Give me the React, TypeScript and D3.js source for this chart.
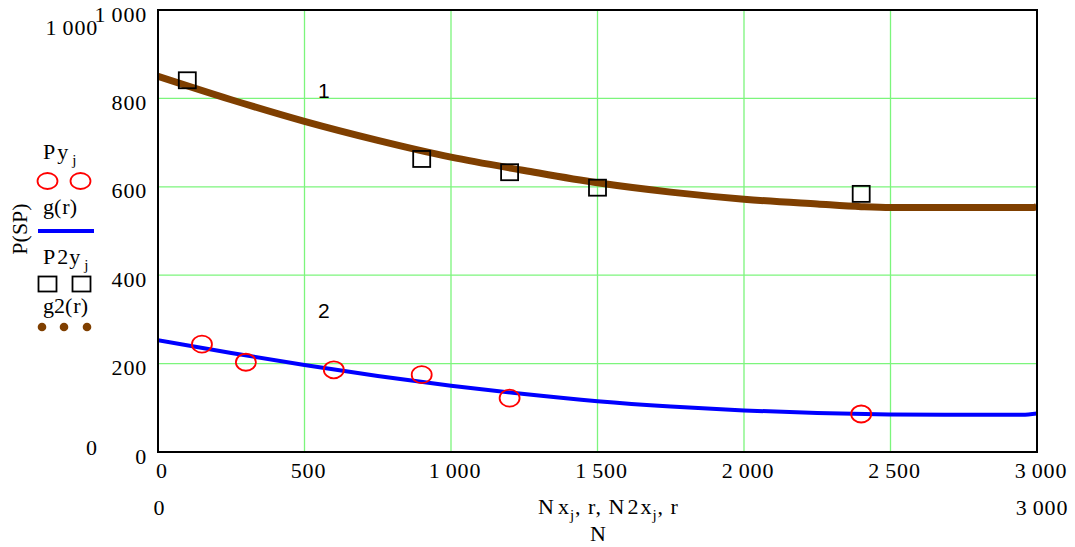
import React from "react";
import * as d3 from "d3";

const xTicks = [0, 500, 1000, 1500, 2000, 2500, 3000];
const yTicks = [0, 200, 400, 600, 800, 1000];

// Py_j (red circles)
const pyN = [150, 300, 600, 900, 1200, 2400];
const pyV = [244, 203, 186, 175, 122, 86];

// P2y_j (black squares)
const p2yN = [100, 900, 1200, 1500, 2400];
const p2yV = [841, 663, 633, 598, 584];

// g(r) blue curve
const gN = [0, 250, 500, 750, 1000, 1250, 1500, 1750, 2000, 2250, 2500, 2750, 2950, 3000];
const gV = [253, 224, 197, 172, 150, 131, 115, 103, 94, 88, 85, 84, 84, 87];

// g2(r) brown curve
const g2N = [0, 250, 500, 750, 1000, 1250, 1500, 1750, 2000, 2250, 2400, 2500, 2750, 2990, 3000];
const g2V = [850, 797, 748, 705, 667, 637, 609, 588, 572, 561, 555, 553, 553, 553, 556];

const fmt = (v: number) => (v >= 1000 ? String(v).replace(/^(\d)(\d{3})$/, "$1\u2009$2") : String(v));

export default function App() {
  const W = 1075, H = 547;
  const x = d3.scaleLinear().domain([0, 3000]).range([158, 1037]);
  const y = d3.scaleLinear().domain([0, 1000]).range([452, 10]);
  const line = d3
    .line<[number, number]>()
    .x((d) => x(d[0]))
    .y((d) => y(d[1]))
    .curve(d3.curveMonotoneX);
  const gPath = line(gN.map((n, i) => [n, gV[i]] as [number, number])) || "";
  const g2Path = line(g2N.map((n, i) => [n, g2V[i]] as [number, number])) || "";
  const serif = "'Liberation Serif', 'Times New Roman', serif";
  const sans = "'Liberation Sans', Arial, sans-serif";
  const green = "#7cf57c";
  const fs = 22;
  const ls = 0.8;

  return (
    <svg width={W} height={H} style={{ position: "absolute", left: 0, top: 0, background: "#fff" }}>
      <defs>
        <clipPath id="plot">
          <rect x={158} y={10} width={879} height={442} />
        </clipPath>
      </defs>
      {/* grid */}
      {xTicks.slice(1, -1).map((t) => (
        <line key={"gx" + t} x1={x(t)} x2={x(t)} y1={10} y2={452} stroke={green} strokeWidth={1.3} />
      ))}
      {yTicks.slice(1, -1).map((t) => (
        <line key={"gy" + t} x1={158} x2={1037} y1={y(t)} y2={y(t)} stroke={green} strokeWidth={1.3} />
      ))}
      {/* curves */}
      <g clipPath="url(#plot)">
        <path d={g2Path} fill="none" stroke="#7f3f00" strokeWidth={7} />
        <path d={gPath} fill="none" stroke="#0000ff" strokeWidth={4} />
      </g>
      {/* markers */}
      {p2yN.map((n, i) => (
        <rect key={"s" + i} x={x(n) - 8.5} y={y(p2yV[i]) - 8} width={17} height={16} fill="none" stroke="#000" strokeWidth={1.8} />
      ))}
      {pyN.map((n, i) => (
        <ellipse key={"c" + i} cx={x(n)} cy={y(pyV[i])} rx={10} ry={8.5} fill="none" stroke="#ff0000" strokeWidth={1.8} />
      ))}
      {/* frame */}
      <rect x={158} y={10} width={879} height={442} fill="none" stroke="#000" strokeWidth={2} />
      {/* curve labels */}
      <text x={318} y={98} fontFamily={sans} fontSize={21}>1</text>
      <text x={318} y={318} fontFamily={sans} fontSize={21}>2</text>
      {/* y tick labels */}
      {yTicks.map((t) => (
        <text key={"yl" + t} x={147} y={y(t) + 11.5} textAnchor="end" fontFamily={serif} fontSize={fs} letterSpacing={ls}>
          {fmt(t)}
        </text>
      ))}
      <text x={98} y={35} textAnchor="end" fontFamily={serif} fontSize={fs} letterSpacing={ls}>{fmt(1000)}</text>
      <text x={97} y={455} textAnchor="end" fontFamily={serif} fontSize={fs}>0</text>
      {/* x tick labels */}
      {xTicks.map((t) => (
        <text key={"xl" + t} x={x(t) + 4} y={478} textAnchor="middle" fontFamily={serif} fontSize={fs} letterSpacing={ls}>
          {fmt(t)}
        </text>
      ))}
      <text x={159} y={515} textAnchor="middle" fontFamily={serif} fontSize={fs}>0</text>
      <text x={1042} y={515} textAnchor="middle" fontFamily={serif} fontSize={fs} letterSpacing={ls}>{fmt(3000)}</text>
      {/* x title */}
      <text x={538} y={514} fontFamily={serif} fontSize={fs} letterSpacing={1}>
        <tspan>N</tspan>
        <tspan dx={3}>x</tspan>
        <tspan dy={6} fontSize={15}>j</tspan>
        <tspan dy={-6}>, r, N</tspan>
        <tspan dx={2}>2</tspan>
        <tspan dx={1}>x</tspan>
        <tspan dy={6} fontSize={15}>j</tspan>
        <tspan dy={-6}>, r</tspan>
      </text>
      <text x={598} y={541} textAnchor="middle" fontFamily={serif} fontSize={fs}>N</text>
      {/* y title */}
      <text transform="translate(27,229) rotate(-90)" textAnchor="middle" fontFamily={serif} fontSize={fs}>
        P(SP)
      </text>
      {/* legend */}
      <text x={43} y={159} fontFamily={serif} fontSize={fs}>
        <tspan>P</tspan>
        <tspan dx={2}>y</tspan>
        <tspan dx={4} dy={6} fontSize={15}>j</tspan>
      </text>
      <ellipse cx={47.5} cy={181} rx={10} ry={8} fill="none" stroke="#ff0000" strokeWidth={1.8} />
      <ellipse cx={80.5} cy={181} rx={10} ry={8} fill="none" stroke="#ff0000" strokeWidth={1.8} />
      <text x={43} y={214} fontFamily={serif} fontSize={fs}>
        <tspan>g(</tspan>
        <tspan dx={1}>r)</tspan>
      </text>
      <line x1={38} x2={94} y1={231} y2={231} stroke="#0000ff" strokeWidth={4} />
      <text x={43} y={264} fontFamily={serif} fontSize={fs}>
        <tspan>P</tspan>
        <tspan dx={2}>2</tspan>
        <tspan dx={1}>y</tspan>
        <tspan dx={4} dy={6} fontSize={15}>j</tspan>
      </text>
      <rect x={38.5} y={276.5} width={18} height={15} fill="none" stroke="#000" strokeWidth={1.8} />
      <rect x={72.5} y={276.5} width={18} height={15} fill="none" stroke="#000" strokeWidth={1.8} />
      <text x={43} y={313} fontFamily={serif} fontSize={fs}>
        <tspan>g2(</tspan>
        <tspan dx={1}>r)</tspan>
      </text>
      {[42, 64, 87].map((cx) => (
        <circle key={"d" + cx} cx={cx} cy={327} r={4.3} fill="#7f3f00" />
      ))}
    </svg>
  );
}
